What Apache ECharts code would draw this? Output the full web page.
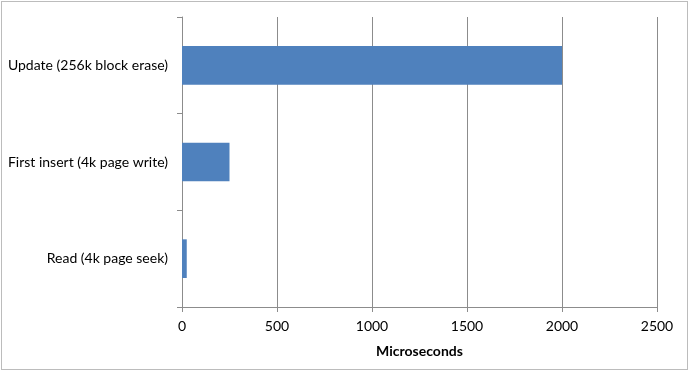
<!DOCTYPE html>
<html>
<head>
<meta charset="utf-8">
<script src="https://cdn.jsdelivr.net/npm/echarts@6/dist/echarts.min.js"></script>
<style>
  html, body { margin: 0; padding: 0; background: #fff; }
  #frame { position: absolute; left: 1px; top: 1px; width: 687px; height: 369px; border: 1px solid #bcbcbc; box-sizing: border-box; }
  #chart { position: absolute; left: 0; top: 0; width: 690px; height: 378px; }
</style>
</head>
<body>
<div id="frame"></div>
<div id="chart"></div>
<script>
// categories listed bottom to top
const categories = ['Read (4k page seek)', 'First insert (4k page write)', 'Update (256k block erase)']
const microseconds = [25, 250, 2000]
const xTicks = { min: 0, max: 2500, interval: 500 }

const font = 'Lato, sans-serif'
const chart = echarts.init(document.getElementById('chart'))

chart.setOption({
  animation: false,
  grid: { left: 182, right: 33, top: 17, bottom: 71, containLabel: false, outerBoundsMode: 'none' },
  xAxis: {
    type: 'value',
    min: xTicks.min,
    max: xTicks.max,
    interval: xTicks.interval,
    name: 'Microseconds',
    nameLocation: 'middle',
    nameGap: 37,
    nameTextStyle: { fontFamily: font, fontSize: 14, fontWeight: 'bold', color: '#000' },
    axisLine: { show: true, lineStyle: { color: '#8c8c8c', width: 1 } },
    axisTick: { show: true, length: 5, lineStyle: { color: '#8c8c8c' } },
    axisLabel: { fontFamily: font, fontSize: 14, color: '#000', margin: 12, formatter: v => String(v) },
    splitLine: { show: true, lineStyle: { color: '#8c8c8c', width: 1 } },
  },
  yAxis: {
    type: 'category',
    data: categories,
    axisLine: { show: true, lineStyle: { color: '#8c8c8c', width: 1 } },
    axisTick: { show: true, length: 5, lineStyle: { color: '#8c8c8c' } },
    axisLabel: { fontFamily: font, fontSize: 14, color: '#000', margin: 14 },
  },
  series: [{
    type: 'bar',
    data: microseconds,
    barWidth: '40%',
    itemStyle: { color: '#4F81BD' },
  }],
})
</script>
</body>
</html>
